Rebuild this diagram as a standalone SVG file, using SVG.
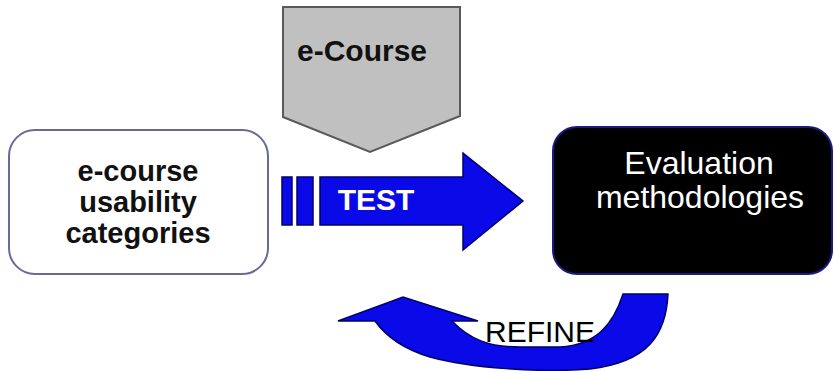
<svg xmlns="http://www.w3.org/2000/svg" width="834" height="371" viewBox="0 0 834 371">
<style>
.lbl{font-family:"Liberation Sans",Arial,sans-serif;text-anchor:middle}
.b{font-weight:bold}
.arrow{fill:#0a0ae8;stroke:#00006a;stroke-width:1.5;stroke-linejoin:miter}
</style>
<rect width="834" height="371" fill="#ffffff"/>
<g id="ecourse">
<polygon points="283,7 460,7 460,116 370,152 283,117" fill="#c0c0c0" stroke="#5a5a5a" stroke-width="2"/>
<text class="lbl b" x="362" y="61" font-size="30" fill="#111">e-Course</text>
</g>
<g id="categories">
<rect x="9" y="130" width="259" height="144" rx="26" fill="#ffffff" stroke="#6a6a9a" stroke-width="2"/>
<text class="lbl b" x="138" y="181" font-size="29" fill="#111">e-course</text>
<text class="lbl b" x="138" y="212" font-size="29" fill="#111">usability</text>
<text class="lbl b" x="138" y="243" font-size="29" fill="#111">categories</text>
</g>
<g id="evaluation">
<rect x="553" y="127" width="279" height="147" rx="24" fill="#000000" stroke="#1a1a80" stroke-width="2"/>
<text class="lbl" x="699" y="174" font-size="32" fill="#ffffff">Evaluation</text>
<text class="lbl" x="700" y="208" font-size="32" fill="#ffffff">methodologies</text>
</g>
<g id="connectors">
<g id="test-arrow">
<rect class="arrow" x="282" y="177" width="10" height="48"/>
<rect class="arrow" x="297" y="177" width="16" height="48"/>
<polygon class="arrow" points="320,177 463,177 463,153 523,201 463,250 463,225 320,225"/>
<text class="lbl b" x="376" y="210" font-size="30" fill="#ffffff">TEST</text>
</g>
<g id="refine-arrow">
<path class="arrow" d="M338 321 L403 297 L478 321 L452 321 C470 340 490 347 520 347 L560 347 C598 345 614 322 623 294 L668 294 C666 335 648 362 590 369 C540 373 470 368 430 357 C400 348 385 335 375 321 Z"/>
<text class="lbl" x="540" y="342" font-size="30" fill="#000">REFINE</text>
</g>
</g>
</svg>
